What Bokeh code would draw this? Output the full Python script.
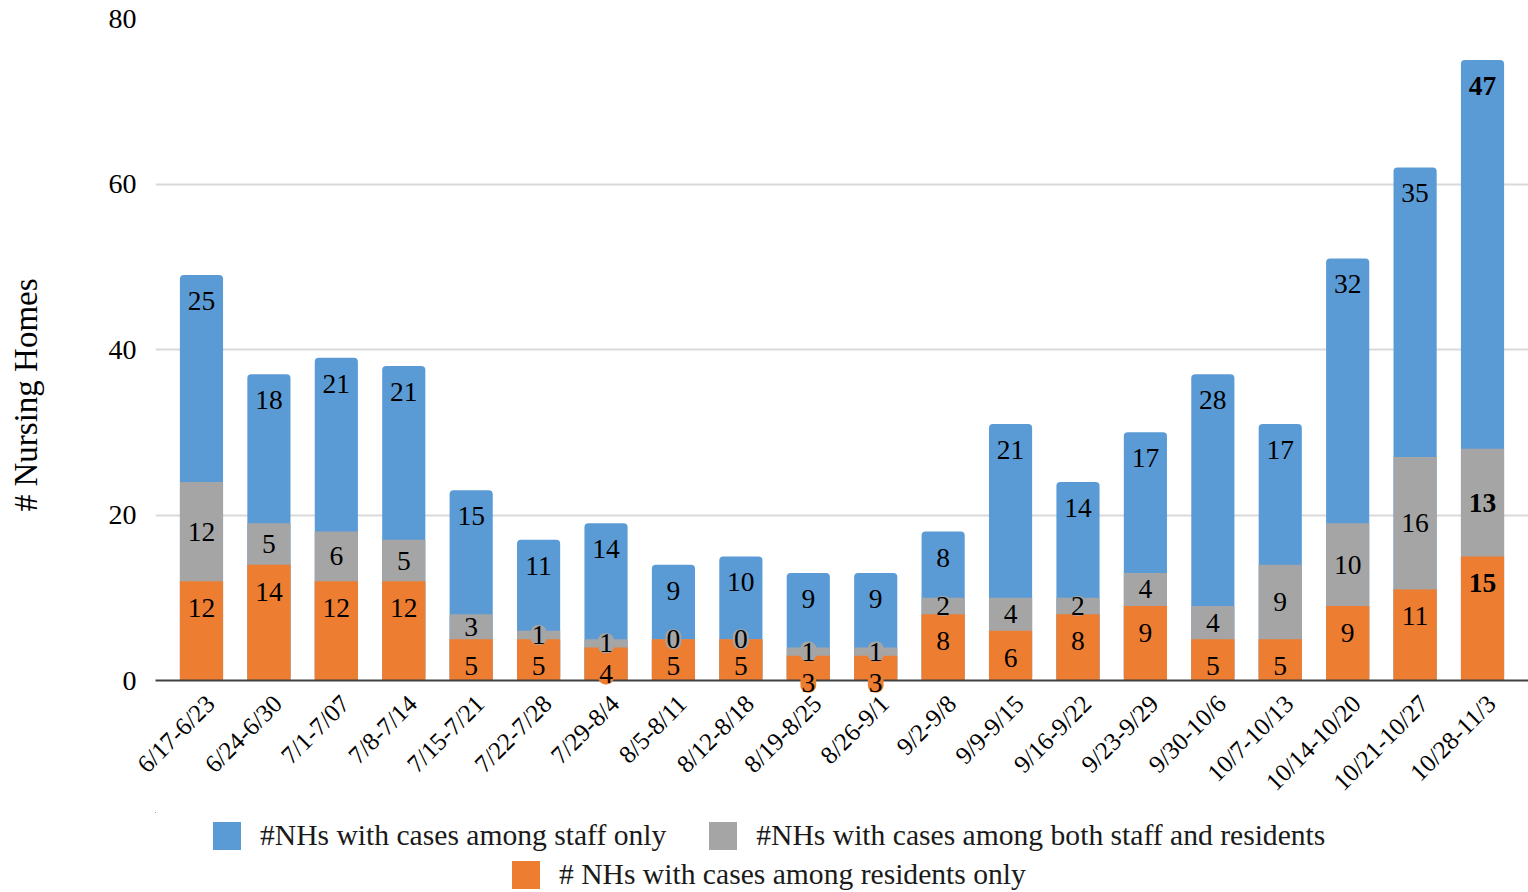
import math
from bokeh.plotting import figure
from bokeh.layouts import column
from bokeh.models import Range1d, FixedTicker, Legend, LegendItem, ColumnDataSource
from bokeh.embed import file_html
from bokeh.resources import INLINE
from bokeh.core.properties import value

weeks = ["6/17-6/23", "6/24-6/30", "7/1-7/07", "7/8-7/14", "7/15-7/21", "7/22-7/28",
         "7/29-8/4", "8/5-8/11", "8/12-8/18", "8/19-8/25", "8/26-9/1", "9/2-9/8",
         "9/9-9/15", "9/16-9/22", "9/23-9/29", "9/30-10/6", "10/7-10/13", "10/14-10/20",
         "10/21-10/27", "10/28-11/3"]
residents_only = [12, 14, 12, 12, 5, 5, 4, 5, 5, 3, 3, 8, 6, 8, 9, 5, 5, 9, 11, 15]
both = [12, 5, 6, 5, 3, 1, 1, 0, 0, 1, 1, 2, 4, 2, 4, 4, 9, 10, 16, 13]
staff_only = [25, 18, 21, 21, 15, 11, 14, 9, 10, 9, 9, 8, 21, 14, 17, 28, 17, 32, 35, 47]
y_ticks = [0, 20, 40, 60, 80]
series_names = ["#NHs with cases among staff only",
                "#NHs with cases among both staff and residents",
                "# NHs with cases among residents only"]

FONT = "Liberation Serif"
BLUE = "#5B9BD5"
GRAY = "#A5A5A5"
ORANGE = "#ED7D31"

n = len(weeks)
xs = list(range(n))
top_orange = residents_only
top_gray = [a + b for a, b in zip(residents_only, both)]
top_blue = [a + b + c for a, b, c in zip(residents_only, both, staff_only)]
styles = ["normal"] * (n - 1) + ["bold"]

p = figure(frame_width=1373, frame_height=662,
           x_range=Range1d(-0.682, 19.682), y_range=Range1d(0, 80),
           output_backend="svg", toolbar_location=None,
           min_border_left=155, min_border_right=0, min_border_top=18, min_border_bottom=132)
p.outline_line_color = None
p.background_fill_color = "white"
p.border_fill_color = "white"

p.vbar(x=xs, top=top_blue, bottom=0, width=0.64, fill_color=BLUE, line_color=None,
       border_radius=4)
p.vbar(x=xs, top=top_gray, bottom=0, width=0.64, fill_color=GRAY, line_color=None)
p.vbar(x=xs, top=top_orange, bottom=0, width=0.64, fill_color=ORANGE, line_color=None)

def labels(y, vals, color, yoff):
    src = ColumnDataSource(dict(x=xs, y=y, text=[str(v) for v in vals], style=styles))
    r = p.text(x="x", y="y", text="text", source=src, text_font=value(FONT),
               text_font_size="27.5px", text_font_style="style", text_color="black",
               text_align="center", text_baseline="middle", y_offset=yoff,
               background_fill_color=color, padding=1, border_radius=7)
    r.level = "overlay"
    return r

labels(top_orange, residents_only, ORANGE, 27)
labels([(a + b) / 2 for a, b in zip(top_orange, top_gray)], both, GRAY, 0)
labels(top_blue, staff_only, BLUE, 26)

# axes
p.yaxis.ticker = FixedTicker(ticks=y_ticks)
p.yaxis.axis_line_color = None
p.yaxis.major_tick_line_color = None
p.yaxis.minor_tick_line_color = None
p.yaxis.major_label_text_font = FONT
p.yaxis.major_label_text_font_size = "28px"
p.yaxis.major_label_text_color = "black"
p.yaxis.major_label_standoff = 13
p.yaxis.axis_label = "# Nursing Homes" + "\u00a0" * 11
p.yaxis.axis_label_text_font = FONT
p.yaxis.axis_label_text_font_size = "33px"
p.yaxis.axis_label_text_font_style = "normal"
p.yaxis.axis_label_text_color = "black"
p.yaxis.axis_label_standoff = 62

# week labels sit slightly right of each bar centre, as in the original
label_pos = [i + 0.13 for i in xs]
p.xaxis.ticker = FixedTicker(ticks=label_pos)
p.xaxis.major_label_overrides = {pos: w for pos, w in zip(label_pos, weeks)}
p.xaxis.major_label_orientation = math.pi / 4
p.xaxis.major_label_text_font = FONT
p.xaxis.major_label_text_font_size = "25px"
p.xaxis.major_label_text_color = "black"
p.xaxis.major_label_standoff = 13
p.xaxis.major_tick_line_color = None
p.xaxis.minor_tick_line_color = None
p.xaxis.axis_line_color = "#404040"
p.xaxis.axis_line_width = 2

p.xgrid.grid_line_color = None
p.ygrid.grid_line_color = "#D9D9D9"
p.ygrid.grid_line_width = 2

# legend strip below the chart (its frame is aligned with the chart's frame);
# the key renderers carry the series' colours but have zero width and lie out of view
lg = figure(width=1528, height=80, x_range=Range1d(1000, 1001), y_range=Range1d(-2, -1),
            output_backend="svg", toolbar_location=None,
            min_border_left=0, min_border_right=0, min_border_top=0, min_border_bottom=0)
lg.axis.visible = False
lg.grid.visible = False
lg.outline_line_color = None
lg.background_fill_color = "white"
lg.border_fill_color = "white"
kb = lg.vbar(x=xs, top=staff_only, bottom=0, width=0, fill_color=BLUE, line_color=None)
kg = lg.vbar(x=xs, top=both, bottom=0, width=0, fill_color=GRAY, line_color=None)
ko = lg.vbar(x=xs, top=residents_only, bottom=0, width=0, fill_color=ORANGE, line_color=None)

leg_common = dict(orientation="horizontal", glyph_width=35, glyph_height=35,
                  label_standoff=16, spacing=39, padding=0, margin=0,
                  label_text_font=FONT, label_text_font_size="29.6px",
                  label_text_color="#1a1a1a", label_height=32,
                  border_line_color=None, background_fill_alpha=0)
leg1 = Legend(items=[LegendItem(label=series_names[0], renderers=[kb], index=0),
                     LegendItem(label=series_names[1], renderers=[kg], index=0)],
              location=(54, 39), **leg_common)
leg2 = Legend(items=[LegendItem(label=series_names[2], renderers=[ko], index=0)],
              location=(353, 0), **leg_common)
lg.add_layout(leg1, "center")
lg.add_layout(leg2, "center")

page = column(p, lg, spacing=0)
open("out.html", "w").write(file_html(page, INLINE))
